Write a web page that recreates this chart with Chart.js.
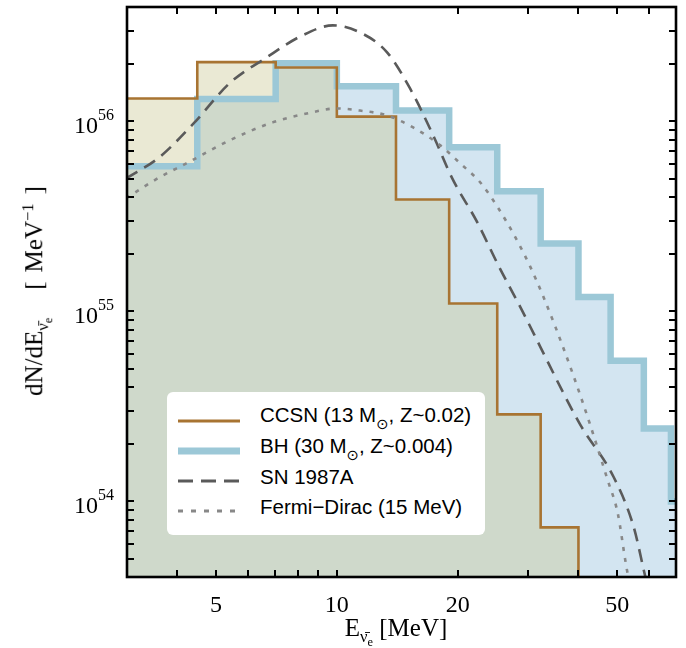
<!DOCTYPE html>
<html>
<head>
<meta charset="utf-8">
<script src="https://cdn.jsdelivr.net/npm/chart.js@4/dist/chart.umd.min.js"></script>
<style>
html,body{margin:0;padding:0;background:#fff;}
#wrap{position:relative;width:686px;height:648px;overflow:hidden;}
#c{position:absolute;left:0;top:0;}
.t{position:absolute;font-family:"Liberation Serif","Times New Roman",serif;color:#000;white-space:nowrap;font-size:25px;line-height:25px;}
.t sub{font-size:0.66em;vertical-align:-0.35em;}
.t sub sub{font-size:0.75em;vertical-align:-0.3em;}
.t sup{font-size:0.66em;vertical-align:0.55em;}
#legend{position:absolute;left:167px;top:392px;width:318px;height:143px;background:#fff;border-radius:6px;}
#legend svg{position:absolute;left:11px;}
#legend span{position:absolute;left:93px;font-family:"Liberation Sans",Arial,sans-serif;font-size:20.5px;line-height:20px;color:#000;white-space:nowrap;}
#legend span sub{font-size:0.72em;vertical-align:-0.45em;font-family:"DejaVu Sans",sans-serif;}
</style>
</head>
<body>
<div id="wrap">
<canvas id="c" width="686" height="648"></canvas>
<div class="t" style="left:396px;top:635px;transform:translate(-50%,-50%);">E<sub>ν̄<sub>e</sub></sub> [MeV]</div>
<div class="t" style="left:38px;top:291px;transform:translate(-50%,-50%) rotate(-90deg);">dN/dE<sub>ν̄<sub>e</sub></sub><span style="margin-left:28px">[</span><span style="margin-left:9px">MeV<sup>−1</sup></span><span style="margin-left:9px">]</span></div>
<div id="legend">
  <svg style="top:19px" width="64" height="20"><line x1="0" y1="10" x2="62" y2="10" stroke="#a87432" stroke-width="3"/></svg>
  <span style="top:13px">CCSN (13 M<sub>⊙</sub>, Z~0.02)</span>
  <svg style="top:49px" width="64" height="20"><line x1="0" y1="10" x2="62" y2="10" stroke="#9cc8d7" stroke-width="7"/></svg>
  <span style="top:44px">BH (30 M<sub>⊙</sub>, Z~0.004)</span>
  <svg style="top:79px" width="64" height="20"><line x1="0" y1="10" x2="62" y2="10" stroke="#5a5a5a" stroke-width="3" stroke-dasharray="15 8"/></svg>
  <span style="top:75px">SN 1987A</span>
  <svg style="top:109px" width="64" height="20"><line x1="0" y1="10" x2="62" y2="10" stroke="#888888" stroke-width="3" stroke-dasharray="5 8"/></svg>
  <span style="top:105px">Fermi−Dirac (15 MeV)</span>
</div>
</div>
<script>
// ---- data ----
const binEdges   = [2, 4.49, 7.04, 10, 14.04, 19.05, 25.1, 32.2, 40.0, 48.1, 58.2, 68.0, 80];
const ccsnValues = [1.32e56, 2.05e56, 1.92e56, 1.06e56, 3.88e55, 1.10e55, 2.87e54, 7.3e53, 1e53];
const bhValues   = [5.8e55, 1.31e56, 2.02e56, 1.53e56, 1.14e56, 7.3e55, 4.29e55, 2.28e55, 1.19e55, 5.5e54, 2.42e54, 1.0e54];

const sn1987aE = [2.985, 3.61, 4.42, 5.40, 6.68, 8.22, 9.77, 11.42, 13.34, 15.22, 17.38, 19.39, 22.39, 25.26, 28.68, 32.18, 36.73, 40.51, 48.98, 54.95, 58.21, 60.6];
const sn1987aN = [5.01e55, 6.47e55, 9.88e55, 1.585e56, 2.17e56, 2.84e56, 3.20e56, 2.94e56, 2.31e56, 1.49e56, 8.44e55, 5.01e55, 2.94e55, 1.745e55, 1.05e55, 6.47e54, 3.70e54, 2.51e54, 1.34e54, 7.30e53, 4.33e53, 3.01e53];

const fermiDiracE = [2.985, 3.61, 4.217, 5.40, 6.918, 8.414, 10, 11.42, 13.34, 15.49, 18.10, 20.30, 22.78, 25.26, 27.86, 30.37, 32.73, 35.08, 38.68, 42.42, 47.32, 50.12, 52.48, 54.0];
const fermiDiracN = [3.94e55, 5.07e55, 6.01e55, 7.94e55, 9.88e55, 1.10e56, 1.17e56, 1.14e56, 1.075e56, 9.30e55, 7.48e55, 6.01e55, 4.77e55, 3.49e55, 2.45e55, 1.71e55, 1.19e55, 8.24e54, 4.72e54, 2.67e54, 1.29e54, 8.65e53, 4.72e53, 3.40e53];

const xTickValues  = [4, 5, 6, 7, 8, 9, 10, 20, 30, 40, 50, 60];
const xLabelValues = [5, 10, 20, 50];
const yTickValues  = [4e53, 5e53, 6e53, 7e53, 8e53, 9e53,
                      1e54, 2e54, 3e54, 4e54, 5e54, 6e54, 7e54, 8e54, 9e54,
                      1e55, 2e55, 3e55, 4e55, 5e55, 6e55, 7e55, 8e55, 9e55,
                      1e56, 2e56, 3e56];
const yLabelExponents = [54, 55, 56];

// ---- build step series from bins ----
function stepPoints(edges, values) {
  const pts = values.map((v, i) => ({x: edges[i], y: v}));
  pts.push({x: edges[values.length], y: values[values.length - 1]});
  return pts;
}
function curvePoints(xs, ys) { return xs.map((x, i) => ({x: x, y: ys[i]})); }

const framePlugin = {
  id: 'frame',
  afterDraw(chart) {
    const {ctx, chartArea: a, scales: {x, y}} = chart;
    ctx.save();
    ctx.strokeStyle = '#000';
    ctx.lineWidth = 2;
    ctx.beginPath();
    const tl = 7;
    xTickValues.forEach(v => {
      const px = Math.round(x.getPixelForValue(v));
      ctx.moveTo(px, a.bottom); ctx.lineTo(px, a.bottom - tl);
      ctx.moveTo(px, a.top); ctx.lineTo(px, a.top + tl);
    });
    yTickValues.forEach(v => {
      const py = Math.round(y.getPixelForValue(v));
      ctx.moveTo(a.left, py); ctx.lineTo(a.left + tl, py);
      ctx.moveTo(a.right, py); ctx.lineTo(a.right - tl, py);
    });
    ctx.stroke();
    ctx.lineWidth = 2.6;
    ctx.strokeRect(a.left, a.top, a.right - a.left, a.bottom - a.top);
    // y tick labels 10^n
    ctx.fillStyle = '#000';
    ctx.textBaseline = 'alphabetic';
    ctx.textAlign = 'right';
    yLabelExponents.forEach(e => {
      const py = y.getPixelForValue(Math.pow(10, e));
      ctx.font = '16px "Liberation Serif"';
      const sup = String(e);
      const sw = ctx.measureText(sup).width;
      const right = 114;
      ctx.fillText(sup, right, py - 1);
      ctx.font = '24px "Liberation Serif"';
      ctx.fillText('10', right - sw, py + 12);
    });
    ctx.restore();
  }
};

const ccsnLine = '#a87432';
const bhLine = '#9cc8d7';

new Chart(document.getElementById('c'), {
  type: 'line',
  data: {
    datasets: [
      { label: 'BH fill', data: stepPoints(binEdges, bhValues), stepped: 'before', borderWidth: 0, borderColor: 'rgba(0,0,0,0)', backgroundColor: 'rgb(211,229,241)', fill: 'start', pointRadius: 0, order: 6 },
      { label: 'CCSN fill', data: stepPoints(binEdges, ccsnValues), stepped: 'before', borderWidth: 0, borderColor: 'rgba(0,0,0,0)', backgroundColor: 'rgba(200,197,142,0.38)', fill: 'start', pointRadius: 0, order: 5 },
      { label: 'BH (30 M⊙, Z~0.004)', data: stepPoints(binEdges, bhValues), stepped: 'before', borderWidth: 6.5, borderColor: bhLine, fill: false, pointRadius: 0, order: 4, borderJoinStyle: 'miter', borderCapStyle: 'butt' },
      { label: 'CCSN (13 M⊙, Z~0.02)', data: stepPoints(binEdges, ccsnValues), stepped: 'before', borderWidth: 2.6, borderColor: ccsnLine, fill: false, pointRadius: 0, order: 3, borderJoinStyle: 'miter' },
      { label: 'SN 1987A', data: curvePoints(sn1987aE, sn1987aN), borderWidth: 2.6, borderColor: '#5a5a5a', borderDash: [13, 8], fill: false, pointRadius: 0, cubicInterpolationMode: 'monotone', order: 2 },
      { label: 'Fermi−Dirac (15 MeV)', data: curvePoints(fermiDiracE, fermiDiracN), borderWidth: 2.6, borderColor: '#888888', borderDash: [4, 7], fill: false, pointRadius: 0, cubicInterpolationMode: 'monotone', order: 1 }
    ]
  },
  options: {
    responsive: false,
    animation: false,
    devicePixelRatio: 1,
    layout: { padding: { left: 0, right: 10, top: 7, bottom: 0 } },
    plugins: { legend: { display: false }, tooltip: { enabled: false } },
    scales: {
      x: {
        type: 'logarithmic', min: 3, max: 70,
        grid: { display: false, drawTicks: false },
        border: { display: false },
        afterBuildTicks: s => { s.ticks = xTickValues.map(v => ({value: v})); },
        afterFit: s => { s.height = 71; },
        ticks: {
          autoSkip: false, maxRotation: 0, minRotation: 0, padding: 14, color: '#000',
          font: { family: '"Liberation Serif"', size: 24 },
          callback: (v) => xLabelValues.includes(v) ? String(v) : ''
        }
      },
      y: {
        type: 'logarithmic', min: 4e53, max: 4e56,
        grid: { display: false, drawTicks: false },
        border: { display: false },
        afterBuildTicks: s => { s.ticks = yTickValues.map(v => ({value: v})); },
        afterFit: s => { s.width = 127; },
        ticks: { display: false }
      }
    }
  },
  plugins: [framePlugin]
});
</script>
</body>
</html>
